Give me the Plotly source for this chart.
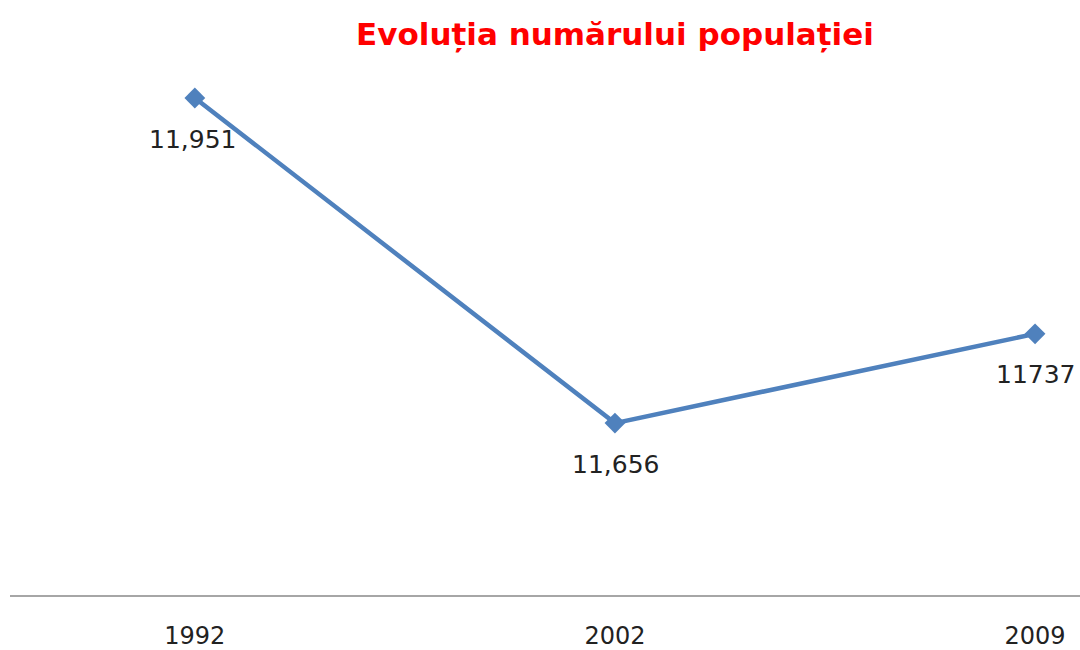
import plotly.graph_objects as go

years = ["1992", "2002", "2009"]
population = [11951, 11656, 11737]
labels = ["11,951", "11,656", "11737"]

fig = go.Figure()
fig.add_trace(go.Scatter(
    x=years, y=population, mode="lines+markers",
    line=dict(color="#4F81BD", width=4.5),
    marker=dict(symbol="diamond", size=16, color="#4F81BD"),
    showlegend=False, hoverinfo="skip",
))
for i, (v, t) in enumerate(zip(population, labels)):
    fig.add_annotation(x=i, y=v, xref="x", yref="y", text=t, showarrow=False,
                       yshift=-41, xshift=-2 if i == 0 else 1, yanchor="middle",
                       font=dict(family="DejaVu Sans", size=25, color="#222222"))

fig.update_layout(
    width=1080, height=650,
    margin=dict(l=10, r=0, t=44, b=55, autoexpand=False),
    paper_bgcolor="white", plot_bgcolor="white",
    title=dict(text="<b>Evoluția numărului populației</b>", x=(615 - 10) / 1070, xref="paper",
               xanchor="center", y=1 - 34 / 650, yanchor="middle",
               font=dict(family="DejaVu Sans", size=31, color="#FF0000")),
    xaxis=dict(type="category", range=[-0.44, 2.107], showgrid=False, zeroline=False,
               showline=True, linecolor="#A6A6A6", linewidth=1.5, ticks="",
               automargin=False,
               tickfont=dict(family="DejaVu Sans", size=24, color="#222222"),
               ticklabelstandoff=18),
    yaxis=dict(range=[11500, 12000], visible=False, showgrid=False, automargin=False),
)
fig.write_html("out.html", config={"displayModeBar": False},
               post_script="document.body.style.margin='0';")
